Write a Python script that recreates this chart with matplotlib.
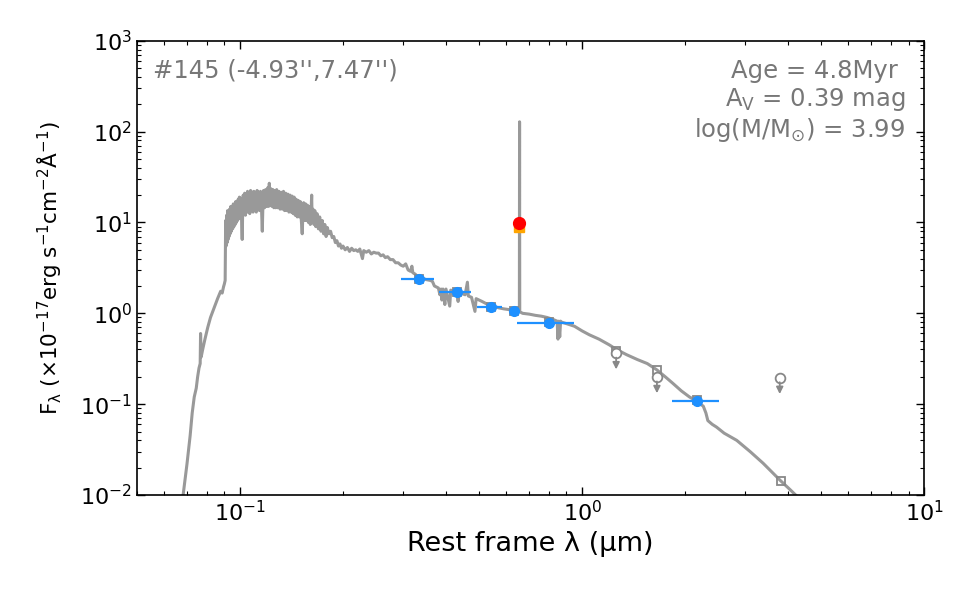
import matplotlib
matplotlib.use("Agg")
import matplotlib.pyplot as plt
import numpy as np

# model spectrum (rest frame wavelength in micron, flux in 1e-17 erg/s/cm2/A)
wave = [
    0.0675, 0.0682, 0.0700, 0.0715, 0.0725, 0.0735, 0.0745, 0.0752, 0.0759, 0.0765,
    0.0767, 0.0770, 0.0778, 0.0790, 0.0805, 0.0820, 0.0840, 0.0860, 0.0878, 0.0887,
    0.0895, 0.0900, 0.0905,
    0.0908, 0.0911, 0.0914, 0.0917, 0.0920, 0.0923, 0.0926, 0.0929, 0.0932, 0.0936,
    0.0940, 0.0944, 0.0948, 0.0952, 0.0956, 0.0960, 0.0964, 0.0968, 0.0972, 0.0976,
    0.0980, 0.0984, 0.0988, 0.0992, 0.0996, 0.1000, 0.1005, 0.1010, 0.1015, 0.1018,
    0.1022, 0.1027, 0.1032, 0.1037, 0.1042, 0.1047, 0.1052, 0.1057, 0.1062, 0.1068,
    0.1074, 0.1080, 0.1086, 0.1092, 0.1098, 0.1104, 0.1110, 0.1116, 0.1122, 0.1128,
    0.1134, 0.1140, 0.1148, 0.1156, 0.1162, 0.1166, 0.1172, 0.1180, 0.1188, 0.1196,
    0.1204, 0.1212, 0.1218, 0.1224, 0.1232, 0.1240, 0.1248, 0.1256, 0.1264, 0.1272,
    0.1280, 0.1290, 0.1300, 0.1310, 0.1320, 0.1330, 0.1340, 0.1350, 0.1360, 0.1370,
    0.1380, 0.1390, 0.1400, 0.1410, 0.1420, 0.1430, 0.1440, 0.1450, 0.1460, 0.1470,
    0.1480, 0.1490, 0.1500, 0.1510, 0.1520, 0.1526, 0.1535, 0.1545, 0.1555, 0.1565,
    0.1575, 0.1585, 0.1595, 0.1605, 0.1615, 0.1620, 0.1625, 0.1635, 0.1645, 0.1655,
    0.1665, 0.1680, 0.1695, 0.1710, 0.1725, 0.1740, 0.1755, 0.1770, 0.1785, 0.1800,
    0.1820, 0.1840, 0.1860, 0.1880, 0.1900, 0.1920, 0.1940, 0.1960, 0.1980, 0.2000,
    0.2030, 0.2060, 0.2090, 0.2120, 0.2150, 0.2180, 0.2210, 0.2240, 0.2280, 0.2300,
    0.2340, 0.2380, 0.2420, 0.2460, 0.2500, 0.2540, 0.2580, 0.2620, 0.2660, 0.2700,
    0.2750, 0.2800, 0.2850, 0.2900, 0.2950, 0.3000, 0.3050, 0.3100, 0.3150, 0.3180,
    0.3200, 0.3250, 0.3300, 0.3350, 0.3400, 0.3450, 0.3500, 0.3600, 0.3650, 0.3700,
    0.3750, 0.3800, 0.3840, 0.3870, 0.3890, 0.3920, 0.3970, 0.4000, 0.4102, 0.4130,
    0.4200, 0.4300, 0.4340, 0.4370, 0.4450, 0.4550, 0.4620, 0.4650, 0.4750, 0.4861,
    0.4900, 0.5000, 0.5100, 0.5200, 0.5300, 0.5400, 0.5500, 0.5700, 0.5900, 0.6100,
    0.6300, 0.6500, 0.6555, 0.6563, 0.6571, 0.6700, 0.7000, 0.7300, 0.7600, 0.7900,
    0.8200, 0.8450, 0.8500, 0.8545, 0.8600, 0.8650, 0.8700, 0.9000, 0.9500, 1.0000,
    1.0500, 1.1200, 1.2000, 1.2600, 1.3500, 1.4500, 1.5500, 1.6500, 1.7500, 1.8400,
    1.9500, 2.0600, 2.1600, 2.2600, 2.3000, 2.3300, 2.4000, 2.4700, 2.6000, 2.8300,
    3.1000, 3.3800, 3.8000, 4.0500, 4.4000,
]
flux = [
    0.0085, 0.010, 0.022, 0.045, 0.080, 0.120, 0.150, 0.200, 0.250, 0.280,
    0.600, 0.330, 0.400, 0.520, 0.700, 0.900, 1.150, 1.450, 1.750, 1.670,
    1.950, 2.100, 2.300,
    10.5, 5.5, 12.0, 6.0, 13.5, 6.5, 12.5, 7.0, 14.0, 7.5,
    15.0, 8.0, 14.5, 8.5, 16.0, 9.0, 15.5, 9.5, 17.0, 10.0,
    16.5, 10.5, 18.0, 11.0, 19.0, 11.5, 18.5, 12.0, 6.5, 12.5,
    20.0, 12.5, 21.0, 12.0, 20.5, 13.0, 22.0, 13.0, 21.0, 12.5,
    22.5, 13.5, 21.5, 13.0, 22.0, 13.5, 21.0, 13.0, 22.5, 14.0,
    21.5, 13.5, 22.0, 14.0, 8.0, 14.0, 22.5, 14.5, 23.0, 15.0,
    24.0, 15.0, 27.0, 15.5, 23.5, 15.0, 23.0, 14.5, 22.5, 14.5,
    23.0, 14.5, 22.0, 14.0, 21.5, 14.0, 22.0, 13.5, 21.0, 13.5,
    20.5, 13.0, 20.0, 13.0, 19.5, 12.5, 19.0, 12.0, 18.0, 11.5,
    17.5, 11.5, 17.0, 11.0, 7.5, 11.5, 16.5, 10.5, 16.0, 10.5,
    15.5, 10.0, 15.0, 9.5, 14.5, 20.0, 10.0, 14.0, 9.5, 13.5,
    9.0, 12.5, 8.5, 11.5, 8.0, 10.5, 7.5, 9.5, 7.0, 8.8,
    7.5, 8.0, 6.8, 7.0, 6.0, 6.3, 5.5, 5.8, 5.2, 5.5,
    5.0, 5.3, 4.8, 5.2, 4.9, 5.0, 4.8, 5.1, 4.0, 4.9,
    4.7, 4.9, 4.5, 4.7, 4.6, 4.6, 4.3, 4.4, 4.1, 4.2,
    3.9, 3.9, 3.6, 3.6, 3.4, 3.3, 3.5, 3.0, 2.9, 3.3,
    2.8, 2.7, 2.55, 2.5, 2.45, 2.4, 2.35, 2.3, 2.25, 2.0,
    1.95, 1.9, 1.6, 1.85, 1.4, 1.85, 1.25, 1.85, 1.2, 1.8,
    1.75, 1.75, 1.35, 1.7, 1.65, 1.6, 2.2, 1.55, 1.5, 1.05,
    1.45, 1.4, 1.35, 1.3, 1.25, 1.2, 1.2, 1.15, 1.12, 1.1,
    1.07, 1.05, 1.05, 128.0, 1.04, 1.0, 0.98, 0.95, 0.93, 0.90,
    0.86, 0.82, 0.52, 0.82, 0.55, 0.82, 0.80, 0.77, 0.72, 0.64,
    0.58, 0.52, 0.45, 0.40, 0.35, 0.31, 0.28, 0.24, 0.20, 0.17,
    0.14, 0.12, 0.108, 0.095, 0.080, 0.066, 0.060, 0.056, 0.048, 0.040,
    0.030, 0.0224, 0.0144, 0.0115, 0.0085,
]

# observed photometry (detections)
obs_wave = [0.3325, 0.430, 0.542, 0.634, 0.798, 2.165]
obs_flux = [2.38, 1.70, 1.16, 1.06, 0.776, 0.109]
obs_xlo = [0.296, 0.382, 0.493, 0.624, 0.643, 1.83]
obs_xhi = [0.370, 0.473, 0.585, 0.644, 0.949, 2.51]

# model photometry
mod_wave = [0.3325, 0.430, 0.542, 0.634, 0.798, 1.257, 1.654, 2.165, 3.80]
mod_flux = [2.40, 1.72, 1.17, 1.06, 0.80, 0.388, 0.238, 0.112, 0.0144]

# upper limits
lim_wave = [1.257, 1.654, 3.78]
lim_flux = [0.366, 0.200, 0.196]

# H-alpha band
ha_wave = 0.652
ha_obs = 9.8
ha_mod = 9.0

fig = plt.figure(figsize=(9.75, 6.03), dpi=100)
ax = fig.add_axes([0.1405, 0.179, 0.8075, 0.7535])

ax.plot(wave, flux, color="#999999", lw=2.2, zorder=2)

ax.plot(mod_wave, mod_flux, "s", ms=6, mfc="none", mec="#888888", mew=1.3, zorder=3)
ax.plot(lim_wave, lim_flux, "o", ms=7, mfc="white", mec="#888888", mew=1.3, zorder=3)
for lw_, lf in zip(lim_wave, lim_flux):
    ax.annotate("", xy=(lw_, lf * 0.66), xytext=(lw_, lf * 0.89),
                arrowprops=dict(arrowstyle="-|>,head_width=0.2,head_length=0.4",
                                color="#888888", lw=1.3, shrinkA=0, shrinkB=0),
                zorder=3)

xerr = [np.array(obs_wave) - np.array(obs_xlo), np.array(obs_xhi) - np.array(obs_wave)]
ax.errorbar(obs_wave, obs_flux, xerr=xerr, fmt="o", color="#1E90FF", ms=7,
            elinewidth=1.6, capsize=0, zorder=4)

ax.plot([ha_wave], [ha_mod], "s", ms=7, color="orange", zorder=5)
ax.plot([ha_wave], [ha_obs], "o", ms=8.5, color="red", zorder=6)

ax.set_xscale("log")
ax.set_yscale("log")
ax.set_xlim(0.05, 10)
ax.set_ylim(1e-2, 1e3)
ax.tick_params(which="both", direction="in", top=True, right=True, labelsize=16)
ax.tick_params(which="major", length=6, width=1)
ax.tick_params(which="minor", length=3, width=0.8)
for s in ax.spines.values():
    s.set_linewidth(1.2)

ax.set_xlabel("Rest frame λ (μm)", fontsize=19.5)
ax.set_ylabel(r"F$_{\rm \lambda}$ ($\times$10$^{-17}$erg s$^{-1}$cm$^{-2}$$\rm \AA^{-1}$)",
              fontsize=15.5, labelpad=12)

ax.text(0.02, 0.96, "#145 (-4.93'',7.47'')", transform=ax.transAxes, color="#777777",
        fontsize=17.5, ha="left", va="top")
ax.text(0.976, 0.96, "Age = 4.8Myr \n" + r"A$_{\rm V}$ = 0.39 mag" + "\n" +
        r"log(M/M$_{\odot}$) = 3.99", transform=ax.transAxes, color="#777777",
        fontsize=17.5, ha="right", va="top", linespacing=1.15)

fig.savefig("out.png", dpi=100)
